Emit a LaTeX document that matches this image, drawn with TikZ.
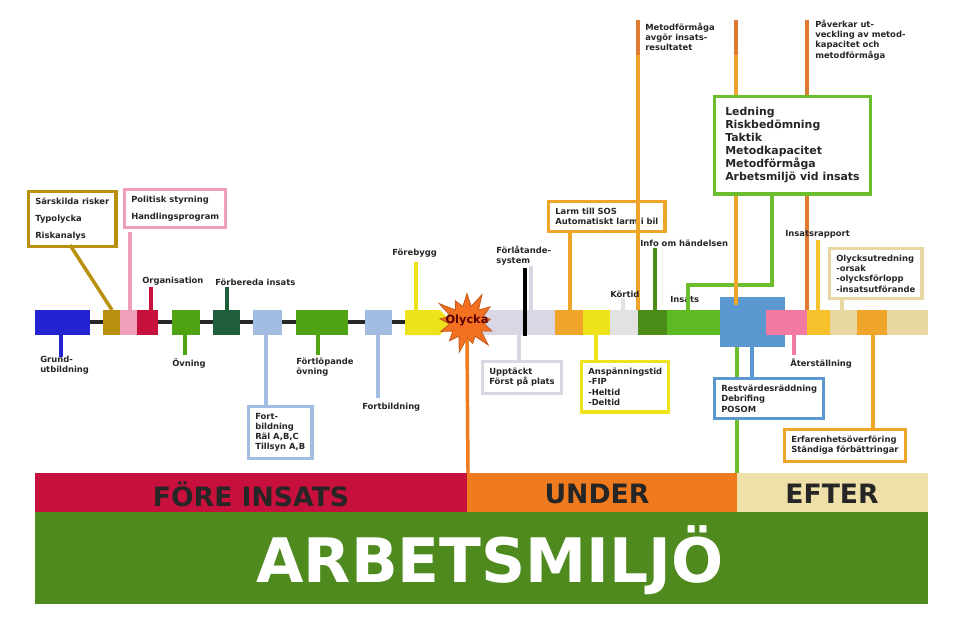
\documentclass[tikz,border=0pt]{standalone}
\usepackage{fontspec}
\setmainfont{DejaVu Sans}
\usetikzlibrary{shapes.symbols}
\definecolor{cblue}{HTML}{2323D2}
\definecolor{cgold}{HTML}{B8900E}
\definecolor{cpink}{HTML}{EFA0B8}
\definecolor{cred}{HTML}{C8103C}
\definecolor{cgreen}{HTML}{4FA312}
\definecolor{cdgreen}{HTML}{1E5E3A}
\definecolor{clblue}{HTML}{A3BDE2}
\definecolor{cyellow}{HTML}{EEE21A}
\definecolor{clav}{HTML}{DAD6E4}
\definecolor{corange}{HTML}{EFA52A}
\definecolor{clgray}{HTML}{E2E2E2}
\definecolor{cmgreen}{HTML}{4B8C17}
\definecolor{cbgreen}{HTML}{5DBA22}
\definecolor{cmblue}{HTML}{5B98CF}
\definecolor{chpink}{HTML}{F27AA0}
\definecolor{cyorange}{HTML}{F8C22C}
\definecolor{cbeige}{HTML}{E8D7A0}
\definecolor{cdorange}{HTML}{E07A30}
\definecolor{cband}{HTML}{C8103C}
\definecolor{cunder}{HTML}{F07A1E}
\definecolor{cefter}{HTML}{EFDFA8}
\definecolor{carb}{HTML}{4E8A1E}
\definecolor{cstar}{HTML}{F37021}
\definecolor{cboxgreen}{HTML}{6CBE2E}
\begin{document}
\begin{tikzpicture}[x=0.75pt,y=-0.75pt,
  lbl/.style={font=\fontsize{6.3}{7.6}\selectfont\bfseries,align=left,inner sep=0pt,text=black!85},
  bx/.style={lbl,draw=#1,line width=2.4pt,inner sep=5pt,fill=white},
  stem/.style={line width=2.6pt,draw=#1},
  seg/.style={fill=#1,inner sep=0pt,minimum height=19pt}]
\useasboundingbox (0,0) rectangle (962,629);
% black axis
\draw[line width=3pt,black!85] (35,322) -- (440,322);
% segments
\newcommand\segm[4]{\node[seg=#4,minimum width={(#3-#2)*0.75pt}] (#1) at ({(#2+#3)/2},322.5) {};}
\segm{s1}{35}{90}{cblue}
\segm{s2}{103}{120}{cgold}
\segm{s3}{120}{137}{cpink}
\segm{s4}{137}{158}{cred}
\segm{s5}{172}{200}{cgreen}
\segm{s6}{213}{240}{cdgreen}
\segm{s7}{253}{282}{clblue}
\segm{s8}{296}{348}{cgreen}
\segm{s9}{365}{392}{clblue}
\fill[cyellow] (405,310) -- (440,310) -- (452,322) -- (440,335) -- (405,335) -- cycle;
\node[inner sep=0pt] (s10) at (420,322) {};
\segm{t1}{480}{555}{clav}
\segm{t2}{555}{583}{corange}
\segm{t3}{583}{610}{cyellow}
\segm{t4}{610}{638}{clgray}
\segm{t5}{638}{667}{cmgreen}
\segm{t6}{667}{737}{cbgreen}
\node[fill=cmblue,inner sep=0pt,minimum width=48.75pt,minimum height=37.5pt] (t7) at (752,322) {};
\segm{t8}{766}{807}{chpink}
\segm{t9}{807}{830}{cyorange}
\segm{t10}{830}{857}{cbeige}
\segm{t11}{857}{887}{corange}
\segm{t12}{887}{928}{cbeige}
% star
\node[starburst,starburst points=13,starburst point height=13pt,fill=cstar,draw=cstar!80!black,line width=0.6pt,minimum width=52pt,minimum height=50pt,inner sep=0pt] (star) at (467,322) {};
\node[font=\fontsize{8.5}{10}\selectfont\bfseries,text=red!35!black] (ol) at (467,320) {Olycka};
% bands
\fill[cband] (35,473) rectangle (467,512);
\fill[cunder] (467,473) rectangle (737,512);
\fill[cefter] (737,473) rectangle (928,512);
\fill[carb] (35,512) rectangle (928,604);
\node[font=\fontsize{20}{22}\selectfont\bfseries,text=black!85] (fore) at (251,494) {FÖRE INSATS};
\node[font=\fontsize{20}{22}\selectfont\bfseries,text=black!85] (under) at (597,494) {UNDER};
\node[font=\fontsize{20}{22}\selectfont\bfseries,text=black!85] (efter) at (832,494) {EFTER};
\node[font=\fontsize{46}{50}\selectfont\bfseries,text=white] (arb) at (490,560) {ARBETSMILJÖ};
% --- before ---
\node[lbl,anchor=north west] (grund) at (40,356) {Grund-\\utbildning};
\draw[stem=cblue] (61,335) -- (61,357);
\node[bx=cgold,anchor=north west,font=\fontsize{6.3}{12.5}\selectfont\bfseries] (sar) at (27,190) {Särskilda risker\\Typolycka\\Riskanalys};
\draw[stem=cgold] (70,245) -- (112,310);
\node[bx=cpink,anchor=north west,font=\fontsize{6.3}{12.5}\selectfont\bfseries] (pol) at (123,188) {Politisk styrning\\Handlingsprogram\vphantom{p}};
\draw[stem=cpink] (130,232) -- (130,310);
\node[lbl,anchor=south west] (org) at (142,286) {Organisation};
\draw[stem=cred] (151,287) -- (151,310);
\node[lbl,anchor=north west] (ov) at (172,358) {Övning};
\draw[stem=cgreen] (185,335) -- (185,355);
\node[lbl,anchor=south west] (forb) at (215,286) {Förbereda insats};
\draw[stem=cdgreen] (227,287) -- (227,310);
\node[bx=clblue,anchor=north west] (fort1) at (247,405) {Fort-\\bildning\\Räl A,B,C\\Tillsyn A,B};
\draw[stem=clblue] (266,335) -- (fort1.north -| 266,0);
\node[lbl,anchor=north west] (forl) at (296,358) {Förtlöpande\\övning};
\draw[stem=cgreen] (318,335) -- (318,355);
\node[lbl,anchor=north west] (fort2) at (362,403) {Fortbildning};
\draw[stem=clblue] (378,335) -- (378,398);
\node[lbl,anchor=south west] (foreb) at (392,258) {Förebygg};
\draw[stem=cyellow] (416,262) -- (416,310);
\draw[stem=cunder] (star.south) -- (468,473);
% --- during ---
\node[lbl,anchor=south west] (forlat) at (496,266) {Förlåtande-\\system};
\draw[stem=clav] (531,266) -- (531,310);
\draw[line width=2.6pt,black] (525,268) -- (525,336);
\node[bx=clav,anchor=north west] (upp) at (481,360) {Upptäckt\\Först på plats};
\draw[stem=clav] (519,335) -- (519,360);
\node[bx=corange,anchor=north west] (larm) at (547,200) {Larm till SOS\\Automatiskt larm i bil};
\draw[stem=corange] (larm.south -| 570,0) -- (570,310);
\draw[stem=corange] (638,55) -- (638,310);
\draw[stem=cdorange] (638,20) -- (638,55);
\node[lbl,anchor=north west] (met) at (645,23) {Metodförmåga\\avgör insats-\\resultatet};
\node[lbl,anchor=south west] (info) at (640,247) {Info om händelsen};
\draw[stem=cmgreen] (655,248) -- (655,310);
\node[lbl,anchor=south west] (kor) at (610,298) {Körtid};
\draw[stem=clgray] (623,298) -- (623,310);
\node[bx=cyellow,anchor=north west] (ansp) at (580,360) {Anspänningstid\\-FIP\\-Heltid\\-Deltid};
\draw[stem=cyellow] (596,335) -- (596,360);
\node[bx=cboxgreen,anchor=north west,font=\fontsize{8.2}{9.8}\selectfont\bfseries,inner sep=8pt] (led) at (713,95) {Ledning\\Riskbedömning\\Taktik\\Metodkapacitet\\Metodförmåga\\Arbetsmiljö vid insats};
\node[lbl,anchor=south west] (ins) at (670,303) {Insats};
\draw[stem=cboxgreen] (688,310) -- (688,285) -- (772,285) -- (led.south -| 772,0);
\draw[stem=corange] (736,20) -- (736,95);
\draw[stem=cdorange] (736,20) -- (736,55);
\draw[stem=corange] (led.south -| 736,0) -- (736,305);
\draw[stem=cboxgreen] (737,347) -- (737,473);
\node[bx=cmblue,anchor=north west] (rest) at (713,377) {Restvärdesräddning\\Debrifing\\POSOM};
\draw[stem=cmblue] (752,347) -- (rest.north -| 752,0);
% --- after ---
\draw[stem=cdorange] (807,20) -- (807,95);
\draw[stem=cdorange] (led.south -| 807,0) -- (807,310);
\node[lbl,anchor=north west] (pav) at (815,20) {Påverkar ut-\\veckling av metod-\\kapacitet och\\metodförmåga};
\node[lbl,anchor=south west] (irap) at (785,239) {Insatsrapport};
\draw[stem=cyorange] (818,240) -- (818,310);
\node[bx=cbeige,anchor=north west] (olu) at (828,247) {Olycksutredning\\-orsak\\-olycksförlopp\\-insatsutförande};
\draw[stem=cbeige] (olu.south -| 842,0) -- (842,310);
\node[lbl,anchor=north west] (ater) at (790,358) {Återställning};
\draw[stem=chpink] (794,335) -- (794,355);
\node[bx=corange,anchor=north west] (erf) at (783,428) {Erfarenhetsöverföring\\Ständiga förbättringar};
\draw[stem=corange] (873,335) -- (erf.north -| 873,0);
\end{tikzpicture}
\end{document}
